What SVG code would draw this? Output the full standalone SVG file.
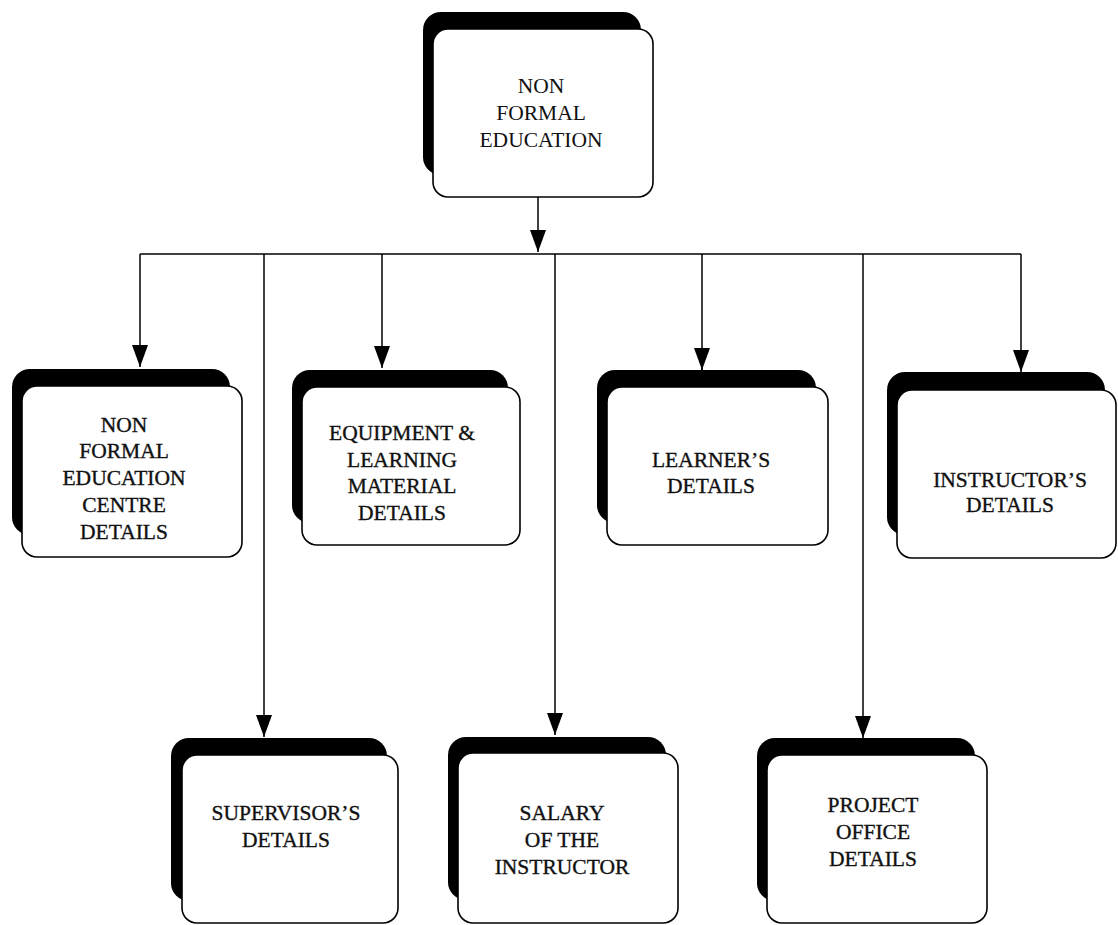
<svg xmlns="http://www.w3.org/2000/svg" width="1118" height="925" viewBox="0 0 1118 925">
<defs>
<style>
.sh{fill:#000}
.bx{fill:#fff;stroke:#000;stroke-width:1.6}
.t{font-size:21.5px;fill:#111;text-anchor:middle}
.tb{stroke:#111;stroke-width:0.35}
.ln{fill:none;stroke:#000;stroke-width:1.5}
</style>
<marker id="arr" viewBox="0 0 22 16" refX="22" refY="8" markerWidth="22" markerHeight="16" orient="auto" markerUnits="userSpaceOnUse">
<path d="M0,0 L22,8 L0,16 z" fill="#000"/>
</marker>
</defs>
<rect width="1118" height="925" fill="#fff"/>

<g id="connectors">
<line class="ln" x1="538" y1="197" x2="538" y2="252" marker-end="url(#arr)"/>
<line class="ln" x1="140" y1="254" x2="1021" y2="254"/>
<line class="ln" x1="140" y1="254" x2="140" y2="367" marker-end="url(#arr)"/>
<line class="ln" x1="264" y1="254" x2="264" y2="737" marker-end="url(#arr)"/>
<line class="ln" x1="382" y1="254" x2="382" y2="368" marker-end="url(#arr)"/>
<line class="ln" x1="555" y1="254" x2="555" y2="735" marker-end="url(#arr)"/>
<line class="ln" x1="702" y1="254" x2="702" y2="370" marker-end="url(#arr)"/>
<line class="ln" x1="702" y1="368" x2="702" y2="387"/>
<line class="ln" x1="863" y1="254" x2="863" y2="738" marker-end="url(#arr)"/>
<line class="ln" x1="1021" y1="254" x2="1021" y2="372" marker-end="url(#arr)"/>
</g>

<g font-family="'Liberation Serif', 'Times New Roman', 'DejaVu Serif', serif">
<g id="n-nfe">
<rect class="sh" x="423" y="12" width="218" height="163" rx="18"/>
<rect class="bx" x="433" y="29" width="220" height="168" rx="15"/>
<text class="t" x="541" y="93">NON</text>
<text class="t" x="541" y="120">FORMAL</text>
<text class="t" x="541" y="147">EDUCATION</text>
</g>

<g id="n-centre">
<rect class="sh" x="12" y="369" width="218" height="166" rx="18"/>
<rect class="bx" x="22" y="386" width="220" height="171" rx="15"/>
<text class="t tb" x="124" y="432">NON</text>
<text class="t tb" x="124" y="458">FORMAL</text>
<text class="t tb" x="124" y="485">EDUCATION</text>
<text class="t tb" x="124" y="512">CENTRE</text>
<text class="t tb" x="124" y="539">DETAILS</text>
</g>

<g id="n-equipment">
<rect class="sh" x="292" y="370" width="216" height="153" rx="18"/>
<rect class="bx" x="302" y="387" width="218" height="158" rx="15"/>
<text class="t tb" x="402" y="440">EQUIPMENT &amp;</text>
<text class="t tb" x="402" y="467">LEARNING</text>
<text class="t tb" x="402" y="493">MATERIAL</text>
<text class="t tb" x="402" y="520">DETAILS</text>
</g>

<g id="n-learner">
<rect class="sh" x="597" y="370" width="219" height="153" rx="18"/>
<rect class="bx" x="607" y="387" width="221" height="158" rx="15"/>
<text class="t tb" x="711" y="467">LEARNER’S</text>
<text class="t tb" x="711" y="493">DETAILS</text>
</g>

<g id="n-instructor">
<rect class="sh" x="887" y="372" width="218" height="163" rx="18"/>
<rect class="bx" x="897" y="390" width="219" height="168" rx="15"/>
<text class="t tb" x="1010" y="487">INSTRUCTOR’S</text>
<text class="t tb" x="1010" y="512">DETAILS</text>
</g>

<g id="n-supervisor">
<rect class="sh" x="171" y="738" width="216" height="163" rx="18"/>
<rect class="bx" x="182" y="755" width="216" height="168" rx="15"/>
<text class="t tb" x="286" y="820">SUPERVISOR’S</text>
<text class="t tb" x="286" y="847">DETAILS</text>
</g>

<g id="n-salary">
<rect class="sh" x="448" y="737" width="218" height="163" rx="18"/>
<rect class="bx" x="458" y="753" width="220" height="170" rx="15"/>
<text class="t tb" x="562" y="820">SALARY</text>
<text class="t tb" x="562" y="847">OF THE</text>
<text class="t tb" x="562" y="874">INSTRUCTOR</text>
</g>

<g id="n-project">
<rect class="sh" x="757" y="738" width="218" height="163" rx="18"/>
<rect class="bx" x="767" y="755" width="220" height="168" rx="15"/>
<text class="t tb" x="873" y="812">PROJECT</text>
<text class="t tb" x="873" y="839">OFFICE</text>
<text class="t tb" x="873" y="866">DETAILS</text>
</g>
</g>
</svg>
